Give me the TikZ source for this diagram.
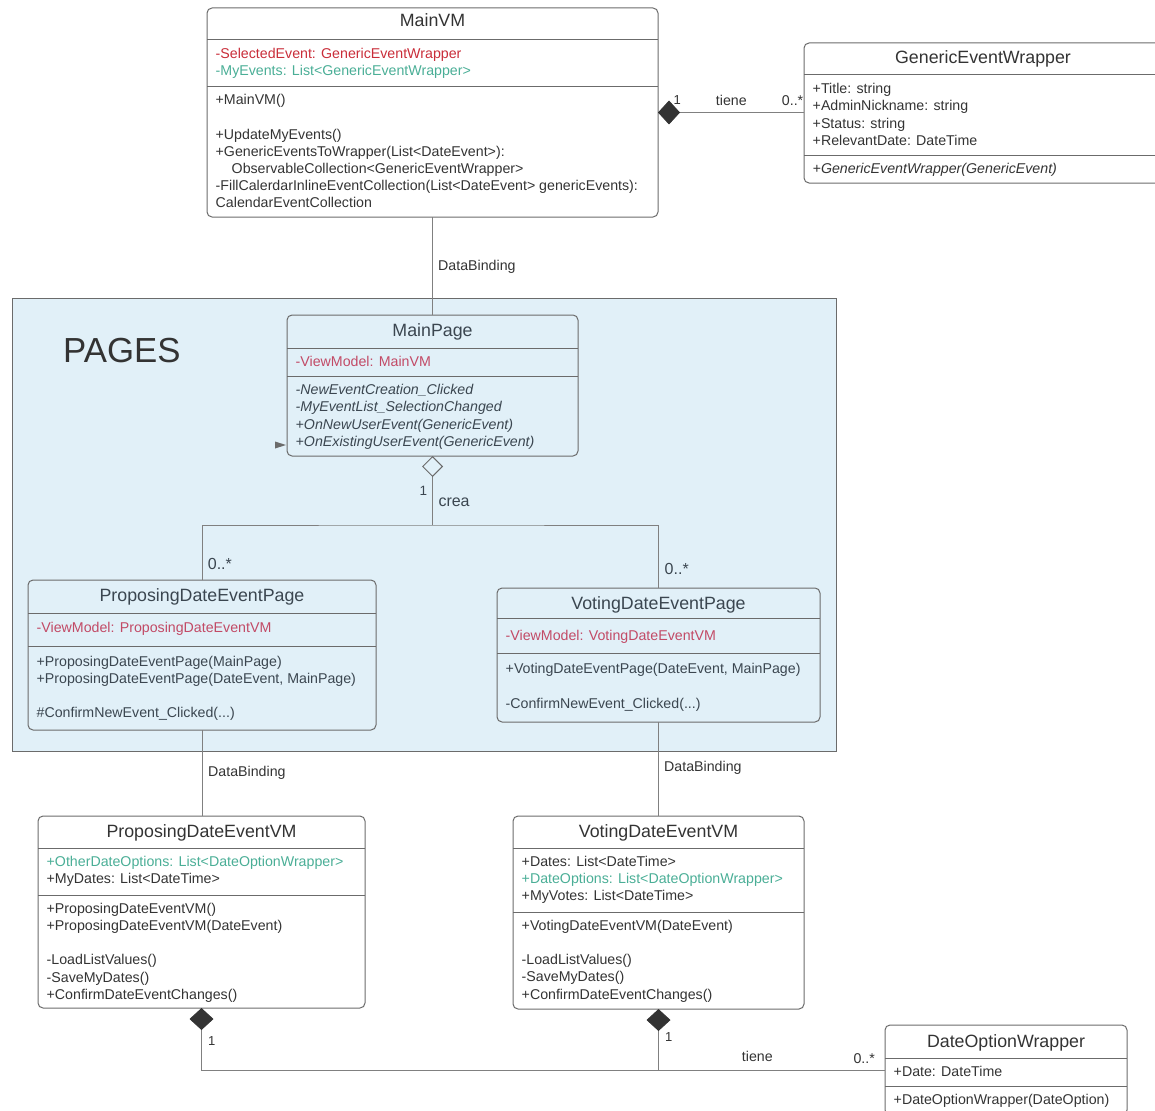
\documentclass[tikz,border=0pt]{standalone}
\usepackage{fontspec}
\setmainfont{Liberation Sans}
\usetikzlibrary{arrows.meta}
\definecolor{inkgray}{HTML}{333333}
\definecolor{boxgray}{HTML}{6B6B6B}
\definecolor{linegray}{HTML}{808080}
\definecolor{umlred}{HTML}{C92D39}
\definecolor{umlteal}{HTML}{4AAE96}
\definecolor{pagered}{HTML}{C24A66}
\definecolor{pagefill}{HTML}{E1F0F8}
\definecolor{pageink}{HTML}{3B4650}

\begin{document}
\begin{tikzpicture}[x=1pt,y=-1pt,
  classbox/.style={draw=boxgray, line width=1pt, rounded corners=5pt, inner sep=0pt, outer sep=0pt},
  classname/.style={anchor=base, inner sep=0pt, text=inkgray, font=\fontsize{17.8}{21}\selectfont},
  members/.style={anchor=north west, inner sep=0pt, align=left, text=inkgray, font=\fontsize{14.2}{17.2}\selectfont},
  divider/.style={draw=boxgray, line width=1pt},
  rel/.style={draw=linegray, line width=0.9pt},
  comp/.style={rel, {Diamond[length=22pt,width=24pt,color=inkgray,fill=inkgray]}-},
  agg/.style={rel, {Diamond[open,length=21pt,width=21pt,color=boxgray]}-},
  lbl/.style={inner sep=0pt, text=inkgray, font=\fontsize{14.2}{17}\selectfont},
  biglbl/.style={inner sep=0pt, text=pageink, font=\fontsize{16}{19}\selectfont}
]
\useasboundingbox (0,0) rectangle (1155,1110);
\clip (0,0) rectangle (1155,1110);

% MainVM
\node[classbox, minimum width=451pt, minimum height=209pt] (mainvm) at (432.5,112.5) {};
\draw[divider] (207,40) -- (658,40);
\draw[divider] (207,87) -- (658,87);
\node[classname] (mainvm-name) at (432.5,26.4) {MainVM};
\node[members] (mainvm-attr) at (215.5,46.4) {\strut\textcolor{umlred}{-SelectedEvent: GenericEventWrapper}\\
  \textcolor{umlteal}{-MyEvents: List<GenericEventWrapper>}};
\node[members] (mainvm-ops) at (215.5,92.4) {\strut+MainVM()\\ \strut\\
  +UpdateMyEvents()\\
  +GenericEventsToWrapper(List<DateEvent>):\\
  \hspace*{16pt}ObservableCollection<GenericEventWrapper>\\
  -FillCalerdarInlineEventCollection(List<DateEvent> genericEvents):\\
  CalendarEventCollection};

% GenericEventWrapper
\node[classbox, minimum width=358pt, minimum height=140pt] (gew) at (983,113) {};
\draw[divider] (804,75) -- (1162,75);
\draw[divider] (804,156) -- (1162,156);
\node[classname] (gew-name) at (983,63.7) {GenericEventWrapper};
\node[members] (gew-attr) at (812.5,81.4) {\strut+Title: string\\
  +AdminNickname: string\\
  +Status: string\\
  +RelevantDate: DateTime};
\node[members, font=\fontsize{14.2}{17.2}\selectfont\itshape] (gew-ops) at (812.5,160.8) {\strut+GenericEventWrapper(GenericEvent)};

% PAGES frame
\node[draw=boxgray, fill=pagefill, line width=1pt, inner sep=0pt, minimum width=824pt, minimum height=453pt] (pages) at (424,524.5) {};
\node[anchor=base west, inner sep=0pt, text=inkgray, font=\fontsize{34.8}{40}\selectfont] (pages-title) at (63,362.5) {PAGES};

% MainPage
\node[classbox, minimum width=291pt, minimum height=141pt] (mainpage) at (432.5,385.5) {};
\draw[divider] (287,348) -- (578,348);
\draw[divider] (287,376) -- (578,376);
\node[classname, text=pageink] (mainpage-name) at (432.5,336.4) {MainPage};
\node[members, text=pagered] (mainpage-attr) at (295.5,353.8) {\strut-ViewModel: MainVM};
\node[members, text=pageink, font=\fontsize{14.2}{17.2}\selectfont\itshape] (mainpage-ops) at (295.5,382.4) {\strut-NewEventCreation\_Clicked\\
  -MyEventList\_SelectionChanged\\
  +OnNewUserEvent(GenericEvent)\\
  +OnExistingUserEvent(GenericEvent)};
\fill[boxgray] (275,441.5) -- (286,445) -- (275,448.5) -- cycle;

% ProposingDateEventPage
\node[classbox, minimum width=348pt, minimum height=150pt] (ppage) at (202,655) {};
\draw[divider] (28,613) -- (376,613);
\draw[divider] (28,646) -- (376,646);
\node[classname, text=pageink] (ppage-name) at (202,601.4) {ProposingDateEventPage};
\node[members, text=pagered] (ppage-attr) at (36.5,620.4) {\strut-ViewModel: ProposingDateEventVM};
\node[members, text=pageink] (ppage-ops) at (36.5,653.8) {\strut+ProposingDateEventPage(MainPage)\\
  +ProposingDateEventPage(DateEvent, MainPage)\\ \strut\\
  \#ConfirmNewEvent\_Clicked(...)};

% VotingDateEventPage
\node[classbox, minimum width=323pt, minimum height=134pt] (vpage) at (658.5,655) {};
\draw[divider] (497,618) -- (820,618);
\draw[divider] (497,653) -- (820,653);
\node[classname, text=pageink] (vpage-name) at (658.5,609.7) {VotingDateEventPage};
\node[members, text=pagered] (vpage-attr) at (505.5,628.1) {\strut-ViewModel: VotingDateEventVM};
\node[members, text=pageink] (vpage-ops) at (505.5,661.4) {\strut+VotingDateEventPage(DateEvent, MainPage)\\ \strut\\
  -ConfirmNewEvent\_Clicked(...)};

% ProposingDateEventVM
\node[classbox, minimum width=327pt, minimum height=192pt] (pvm) at (201.5,912) {};
\draw[divider] (38,848) -- (365,848);
\draw[divider] (38,895) -- (365,895);
\node[classname] (pvm-name) at (201.5,837.1) {ProposingDateEventVM};
\node[members] (pvm-attr) at (46.5,854.1) {\strut\textcolor{umlteal}{+OtherDateOptions: List<DateOptionWrapper>}\\
  +MyDates: List<DateTime>};
\node[members] (pvm-ops) at (46.5,901.1) {\strut+ProposingDateEventVM()\\
  +ProposingDateEventVM(DateEvent)\\ \strut\\
  -LoadListValues()\\
  -SaveMyDates()\\
  +ConfirmDateEventChanges()};

% VotingDateEventVM
\node[classbox, minimum width=291pt, minimum height=193pt] (vvm) at (658.5,912.5) {};
\draw[divider] (513,848) -- (804,848);
\draw[divider] (513,912) -- (804,912);
\node[classname] (vvm-name) at (658.5,837.1) {VotingDateEventVM};
\node[members] (vvm-attr) at (521.5,854.1) {\strut+Dates: List<DateTime>\\
  \textcolor{umlteal}{+DateOptions: List<DateOptionWrapper>}\\
  +MyVotes: List<DateTime>};
\node[members] (vvm-ops) at (521.5,918.1) {\strut+VotingDateEventVM(DateEvent)\\ \strut\\
  -LoadListValues()\\
  -SaveMyDates()\\
  +ConfirmDateEventChanges()};

% DateOptionWrapper
\node[classbox, minimum width=242pt, minimum height=90pt] (dow) at (1006,1070) {};
\draw[divider] (885,1058) -- (1127,1058);
\draw[divider] (885,1086) -- (1127,1086);
\node[classname] (dow-name) at (1006,1047.1) {DateOptionWrapper};
\node[members] (dow-attr) at (893.5,1064.1) {\strut+Date: DateTime};
\node[members] (dow-ops) at (893.5,1092.1) {\strut+DateOptionWrapper(DateOption)};

% relations
\draw[comp] (mainvm.east) -- (mainvm.east -| gew.west);
\node[lbl, anchor=base west, font=\fontsize{13}{15}\selectfont] (gew-one) at (673.5,105) {1};
\node[lbl, anchor=base west] (gew-tiene) at (715.7,105.5) {tiene};
\node[lbl, anchor=base west] (gew-many) at (781.7,105.5) {0..*};

\draw[rel] (mainvm.south) -- (mainpage.north);
\node[lbl, anchor=base west] (db-main) at (438,270) {DataBinding};

\coordinate (crea) at (432.5,525);
\draw[agg] (mainpage.south) -- (crea);
\draw[rel] (ppage.north) |- (crea) -| (vpage.north);
\node[biglbl, anchor=base west, font=\fontsize{13.5}{16}\selectfont] (crea-one) at (419.3,495.4) {1};
\node[biglbl, anchor=base west] (crea-lbl) at (438.3,506) {crea};
\node[biglbl, anchor=base west] (ppage-many) at (207.7,569) {0..*};
\node[biglbl, anchor=base west] (vpage-many) at (664.5,574.5) {0..*};

\draw[rel] (ppage.south) -- (ppage.south |- pvm.north);
\draw[rel] (vpage.south) -- (vvm.north);
\node[lbl, anchor=base west] (db-prop) at (208,776) {DataBinding};
\node[lbl, anchor=base west] (db-vote) at (664,771) {DataBinding};

\draw[comp] (pvm.south) |- (dow.west);
\draw[comp] (vvm.south) -- (vvm.south |- dow.west);
\node[lbl, anchor=base west, font=\fontsize{13}{15}\selectfont] (pvm-one) at (208,1045) {1};
\node[lbl, anchor=base west, font=\fontsize{13}{15}\selectfont] (vvm-one) at (665,1041.5) {1};
\node[lbl, anchor=base west] (dow-tiene) at (741.7,1061.5) {tiene};
\node[lbl, anchor=base west] (dow-many) at (853.3,1063) {0..*};
\end{tikzpicture}
\end{document}
